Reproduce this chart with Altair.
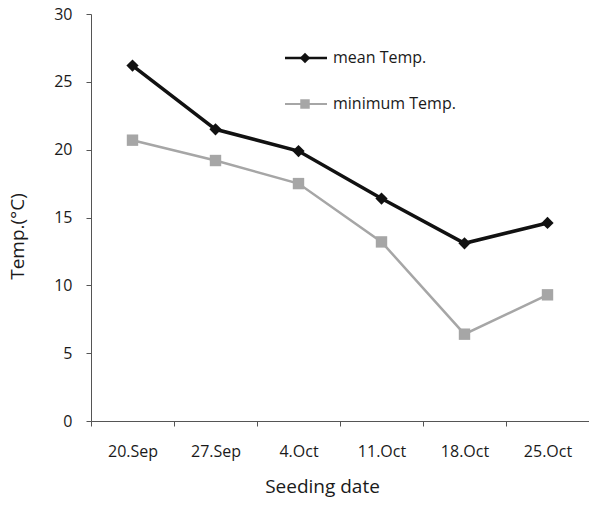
import altair as alt
import pandas as pd

dates = ["20.Sep", "27.Sep", "4.Oct", "11.Oct", "18.Oct", "25.Oct"]
mean_temp = [26.2, 21.5, 19.9, 16.4, 13.1, 14.6]
min_temp = [20.7, 19.2, 17.5, 13.2, 6.4, 9.3]
series_names = ["mean Temp.", "minimum Temp."]

FONT = "Open Sans"
BLACK = "#111111"
GRAY = "#a6a6a6"
TXT = "#1a1a1a"

df = pd.DataFrame({
    "date": dates * 2,
    "temp": mean_temp + min_temp,
    "series": [series_names[0]] * len(dates) + [series_names[1]] * len(dates),
})

W, H = 498, 407

x_enc = alt.X("date:N", sort=dates, title="Seeding date",
              scale=alt.Scale(paddingInner=0, paddingOuter=0),
              axis=alt.Axis(labelAngle=0, tickBand="extent", tickSize=5,
                            labelPadding=17, titlePadding=18, titleX=231,
                            labelFontSize=16, titleFontSize=19,
                            labelFont=FONT, titleFont=FONT,
                            labelColor=TXT, titleColor=TXT,
                            titleFontWeight="normal",
                            domainColor="#555", tickColor="#555"))
y_enc = alt.Y("temp:Q", title="Temp.(°C)",
              scale=alt.Scale(domain=[0, 30], nice=False, zero=True),
              axis=alt.Axis(values=[0, 5, 10, 15, 20, 25, 30], tickSize=5,
                            labelPadding=14, titlePadding=26, grid=False,
                            titleY=222,
                            labelFontSize=16, titleFontSize=19,
                            labelFont=FONT, titleFont=FONT,
                            labelColor=TXT, titleColor=TXT,
                            titleFontWeight="normal",
                            domainColor="#555", tickColor="#555"))

df_mean = df[df.series == series_names[0]]
df_min = df[df.series == series_names[1]]

min_line = alt.Chart(df_min).mark_line(color=GRAY, strokeWidth=2.5).encode(x=x_enc, y=y_enc)
min_pts = alt.Chart(df_min).mark_point(shape="square", filled=True, color=GRAY,
                                       size=130, opacity=1).encode(x=x_enc, y=y_enc)
mean_line = alt.Chart(df_mean).mark_line(color=BLACK, strokeWidth=3.5).encode(x=x_enc, y=y_enc)
mean_pts = alt.Chart(df_mean).mark_point(shape="diamond", filled=True, color=BLACK,
                                         size=150, opacity=1).encode(x=x_enc, y=y_enc)

leg = pd.DataFrame({"series": series_names})
legend_layers = []
for i, (name, col, shp, sw, sz) in enumerate([
        (series_names[0], BLACK, "diamond", 2.5, 110),
        (series_names[1], GRAY, "square", 2, 90)]):
    ly = 44 + i * 46
    d = leg[leg.series == name]
    legend_layers.append(alt.Chart(d).mark_rule(color=col, strokeWidth=sw).encode(
        x=alt.value(194), x2=alt.value(236), y=alt.value(ly)))
    legend_layers.append(alt.Chart(d).mark_point(shape=shp, filled=True, color=col,
                                                 size=sz, opacity=1).encode(
        x=alt.value(214), y=alt.value(ly)))
    legend_layers.append(alt.Chart(d).mark_text(align="left", baseline="middle",
                                                font=FONT, fontSize=16, color=TXT).encode(
        x=alt.value(242), y=alt.value(ly), text="series:N"))

chart = alt.layer(min_line, min_pts, mean_line, mean_pts, *legend_layers).properties(
    width=W, height=H,
    background="white",
    autosize=alt.AutoSizeParams(type="none"),
    padding={"left": 91, "top": 14, "right": 0, "bottom": 92},
).configure_view(stroke=None)

chart.save("out.html", embed_options={"renderer": "svg", "actions": False})
